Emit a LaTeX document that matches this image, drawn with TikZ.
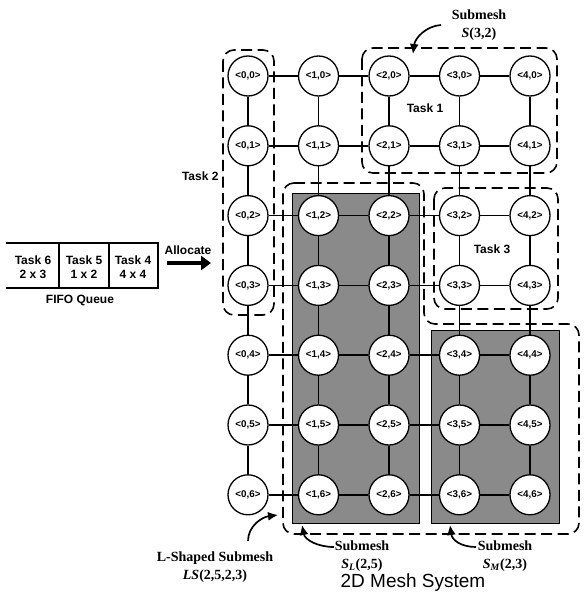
\documentclass[tikz,border=0pt]{standalone}
\usepackage{fontspec}
\setmainfont{Liberation Sans}
\newfontfamily\serifb{Liberation Serif}
\usetikzlibrary{arrows.meta}
\pgfdeclarelayer{bgg}
\pgfdeclarelayer{bg}
\pgfsetlayers{bgg,bg,main}
\begin{document}
\begin{tikzpicture}[x=1pt,y=-1pt,
 mnode/.style={circle,draw,line width=1.3pt,fill=white,minimum size=40pt,inner sep=0pt,font=\fontsize{9.8}{10}\selectfont\bfseries},
 link/.style={line width=1.5pt},
 dsh/.style={line width=1.6pt,dash pattern=on 11pt off 5.5pt,rounded corners=11pt},
 shadebox/.style={fill=black!46,draw=black,line width=1pt},
 lbl/.style={font=\fontsize{12}{13.5}\selectfont\bfseries,align=center},
 slbl/.style={font=\serifb\fontsize{14}{17.5}\selectfont\bfseries,align=center},
 carrow/.style={line width=1.7pt,-{Latex[length=10pt,width=9pt]}}]
\useasboundingbox (0,0) rectangle (585,596);

% mesh nodes
\foreach \i in {0,...,4} {
  \foreach \j in {0,...,6} {
    \node[mnode] (n\i\j) at ({248+70.5*\i},{76+69.8*\j}) {<\i,\j>};
  }
}

% shaded submeshes
\begin{pgfonlayer}{bgg}
\draw[shadebox] (292,193) rectangle (419,523);
\draw[shadebox] (431,330) rectangle (559,523);
\end{pgfonlayer}

% links
\begin{pgfonlayer}{bg}
\foreach \i/\k in {0/1,1/2,2/3,3/4} {
  \foreach \j in {0,...,6} {
    \draw[link] (n\i\j) -- (n\k\j);
  }
}
\foreach \j/\k in {0/1,1/2,2/3,3/4,4/5,5/6} {
  \foreach \i in {0,...,4} {
    \draw[link] (n\i\j) -- (n\i\k);
  }
}
% dashed task outlines
\draw[dsh] (223,50) rectangle (274,315);
\draw[dsh] (362,48) rectangle (557,173);
\draw[dsh] (434,188) rectangle (558,309);
\draw[dsh] (283,183) -- (424,183) -- (424,324) -- (579,324) -- (579,534) -- (283,534) -- cycle;
\end{pgfonlayer}

% task labels
\node[lbl] (t1) at (425,108) {Task 1};
\node[lbl,anchor=east] (t2) at (222,176) {Task 2};
\node[lbl] (t3) at (492,249) {Task 3};

% FIFO queue
\draw[line width=1.2pt] (6,243) -- (158,243) -- (158,288) -- (6,288);
\draw[line width=1.2pt] (59,243) -- (59,288);
\draw[line width=1.2pt] (109,243) -- (109,288);
\node[lbl] (q6) at (33,267) {Task 6\\2 x 3};
\node[lbl] (q5) at (84,267) {Task 5\\1 x 2};
\node[lbl] (q4) at (133,267) {Task 4\\4 x 4};
\node[lbl] (fifo) at (80,300) {FIFO Queue};
\node[lbl] (alloc) at (188,250) {Allocate};
\coordinate (a1) at (167,263);
\coordinate (a2) at (211,263);
\draw[line width=3.5pt,-{Triangle[length=10pt,width=14pt]}] (a1) -- (a2);

% serif labels
\node[slbl] (s32) at (479,25) {Submesh\\\textit{S}(3,2)};
\node[slbl] (ls) at (215,567) {L-Shaped Submesh\\\textit{LS}(2,5,2,3)};
\node[slbl] (sl) at (362,556) {Submesh\\\textit{S}\textsubscript{\textit{L}}(2,5)};
\node[slbl] (sm) at (505,556) {Submesh\\\textit{S}\textsubscript{\textit{M}}(2,3)};
\node[font=\fontsize{19}{21}\selectfont] (title) at (413,583) {2D Mesh System};

% curved arrows
\coordinate (c1s) at (441,25);
\coordinate (c1e) at (413,54);
\draw[carrow] (c1s) .. controls (426,26) and (415,38) .. (c1e);
\coordinate (c2s) at (248,541);
\coordinate (c2e) at (278,515);
\draw[carrow] (c2s) .. controls (248,526) and (262,517) .. (c2e);
\coordinate (c3s) at (334,547);
\coordinate (c3e) at (302,525);
\draw[carrow] (c3s) .. controls (318,547) and (305,540) .. (c3e);
\coordinate (c4s) at (476,547);
\coordinate (c4e) at (450,525);
\draw[carrow] (c4s) .. controls (461,547) and (452,540) .. (c4e);
\end{tikzpicture}
\end{document}
